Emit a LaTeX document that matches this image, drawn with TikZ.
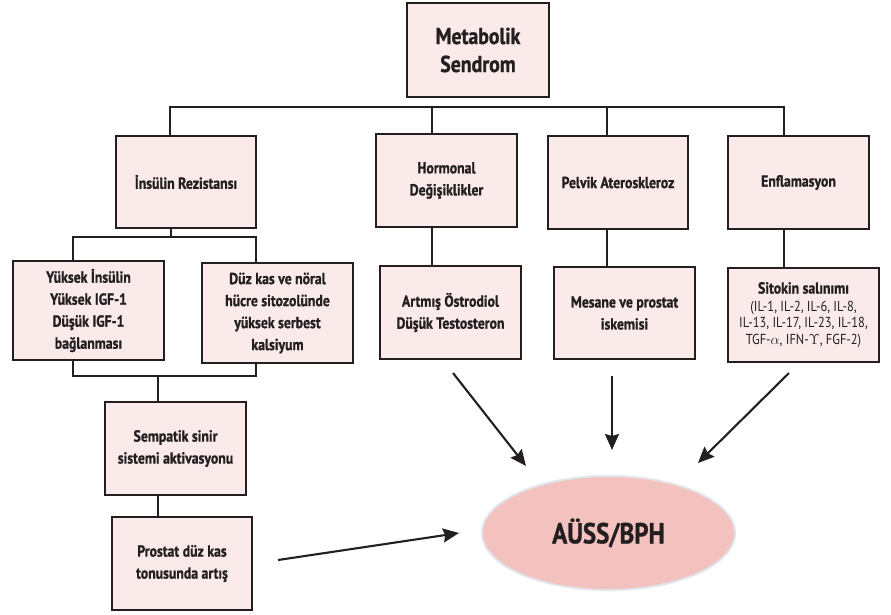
\documentclass[tikz,border=0pt]{standalone}
\usepackage{fontspec}
\setmainfont{PT Sans}[FakeStretch=0.86, BoldFeatures={FakeBold=1}]
\usetikzlibrary{arrows.meta,shapes.geometric}
\definecolor{linec}{HTML}{231F20}
\definecolor{boxfill}{HTML}{FBEAEA}
\definecolor{ellfill}{HTML}{F4C2BE}
\definecolor{ellline}{HTML}{E2E4EA}
\tikzset{
  box/.style={draw=linec, fill=boxfill, line width=2.3pt, rectangle, align=center,
    inner sep=0pt, font=\fontsize{16}{22}\selectfont\bfseries, text=linec},
  conn/.style={draw=linec, line width=2.3pt},
  arr/.style={draw=linec, line width=2.1pt, -{Stealth[length=16pt,width=14pt,inset=2pt]}},
}
\begin{document}
\begin{tikzpicture}[x=1pt,y=-1pt]
\useasboundingbox (0,0) rectangle (891,614);
% top
\node[box, minimum width=142pt, minimum height=94pt, font=\fontsize{23}{28}\selectfont\bfseries] (ms) at (478,50) {Metabolik\\Sendrom};
% second row
\node[box, minimum width=140pt, minimum height=92pt] (ir) at (186,182) {İnsülin Rezistansı};
\node[box, minimum width=141pt, minimum height=93pt] (hd) at (446.5,180.5) {Hormonal\\Değişiklikler};
\node[box, minimum width=140pt, minimum height=93pt] (pa) at (618,182.5) {Pelvik Ateroskleroz};
\node[box, minimum width=141pt, minimum height=93pt] (en) at (798.5,182.5) {Enflamasyon};
% third row
\node[box, minimum width=151pt, minimum height=99pt] (yi) at (88.5,310.5) {Yüksek İnsülin\\Yüksek IGF-1\\Düşük IGF-1\\bağlanması};
\node[box, minimum width=151pt, minimum height=100pt] (dk) at (277.5,313) {Düz kas ve nöral\\hücre sitozolünde\\yüksek serbest\\kalsiyum};
\node[box, minimum width=141pt, minimum height=93pt] (ao) at (450.5,312.5) {Artmış Östrodiol\\Düşük Testosteron};
\node[box, minimum width=141pt, minimum height=92pt] (mp) at (624.5,313) {Mesane ve prostat\\iskemisi};
\node[box, minimum width=151pt, minimum height=94pt, font=\fontsize{14.5}{16.7}\selectfont] (si) at (803.5,315)
  {{\fontsize{16}{18}\selectfont\bfseries Sitokin salınımı}\\[1pt](IL-1, IL-2, IL-6, IL-8,\\IL-13, IL-17, IL-23, IL-18,\\TGF-$\alpha$, IFN-$\Upsilon$, FGF-2)};
% left column
\node[box, minimum width=141pt, minimum height=93pt] (ss) at (175.5,448.5) {Sempatik sinir\\sistemi aktivasyonu};
\node[box, minimum width=140pt, minimum height=93pt] (pd) at (182,563.5) {Prostat düz kas\\tonusunda artış};
% ellipse
\node[ellipse, draw=ellline, fill=ellfill, line width=2pt, minimum width=253pt, minimum height=114pt,
  inner sep=0pt, font=\fontsize{29}{32}\selectfont\bfseries, text=linec] (bph) at (608.5,533) {AÜSS/BPH};
% bus coordinates
\coordinate (busL) at (170,107);
\coordinate (busH) at (432,107);
\coordinate (busP) at (607,107);
\coordinate (busR) at (784,107);
\draw[conn] (ir.north -| busL) -- (busL) -- (busR) -- (en.north -| busR);
\draw[conn] (busH) -- (hd.north -| busH);
\draw[conn] (busP) -- (pa.north -| busP);
\draw[conn] (hd.south -| busH) -- (ao.north -| busH);
\draw[conn] (pa.south -| busP) -- (mp.north -| busP);
\draw[conn] (en.south -| busR) -- (si.north -| busR);
% insulin bracket
\coordinate (brT) at (171,237);
\coordinate (brTL) at (73,237);
\coordinate (brTR) at (256,237);
\draw[conn] (ir.south -| brT) -- (brT);
\draw[conn] (yi.north -| brTL) -- (brTL) -- (brTR) -- (dk.north -| brTR);
\coordinate (brBL) at (73,376);
\coordinate (brBR) at (256,376);
\coordinate (brB) at (158,376);
\draw[conn] (yi.south -| brBL) -- (brBL) -- (brBR) -- (dk.south -| brBR);
\draw[conn] (brB) -- (ss.north -| brB);
\draw[conn] (ss.south -| brB) -- (pd.north -| brB);
% arrows
\coordinate (a1s) at (453,373); \coordinate (a1e) at (526,466);
\coordinate (a2s) at (612,376); \coordinate (a2e) at (612,450);
\coordinate (a3s) at (789,373); \coordinate (a3e) at (698,463);
\coordinate (a4s) at (278,560); \coordinate (a4e) at (459,533);
\draw[arr] (a1s) -- (a1e);
\draw[arr] (a2s) -- (a2e);
\draw[arr] (a3s) -- (a3e);
\draw[arr] (a4s) -- (a4e);
\end{tikzpicture}
\end{document}
